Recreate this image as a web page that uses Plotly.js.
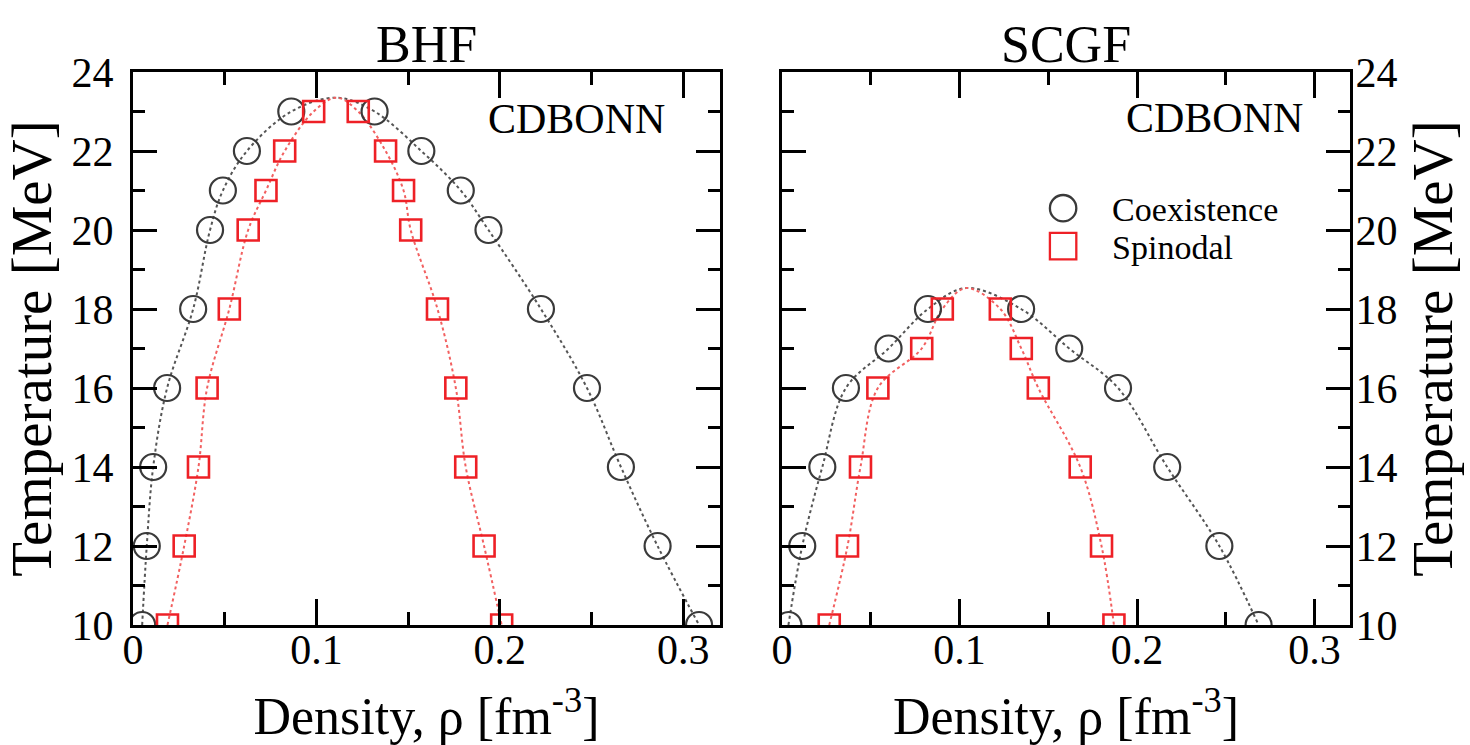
<!DOCTYPE html>
<html>
<head>
<meta charset="utf-8">
<script src="https://cdn.plot.ly/plotly-3.0.1.min.js"></script>
<style>html,body{margin:0;padding:0;background:#fff;}#chart{width:1470px;height:745px;}</style>
</head>
<body>
<div id="chart"></div>
<script>
// ---- Data ----
var temperatures = [10, 12, 14, 16, 18, 20, 21, 22, 23];
// BHF
var bhfCoexLow  = [0.005, 0.0075, 0.011, 0.0186, 0.0328, 0.042, 0.049, 0.0621, 0.0863];
var bhfCoexHigh = [0.3086, 0.286, 0.266, 0.2475, 0.2224, 0.1938, 0.1787, 0.1572, 0.1317];
var bhfSpinLow  = [0.0188, 0.0279, 0.0357, 0.0404, 0.0525, 0.0628, 0.0725, 0.0827, 0.0985];
var bhfSpinHigh = [0.201, 0.1914, 0.1814, 0.176, 0.166, 0.1514, 0.1475, 0.1377, 0.1228];
var bhfCritical = {rho: 0.111, T: 23.35};
// SCGF
var scgfTemperatures = [10, 12, 14, 16, 17, 18];
var scgfCoexLow  = [0.0036, 0.0114, 0.0227, 0.036, 0.060, 0.0822];
var scgfCoexHigh = [0.2685, 0.2464, 0.217, 0.1893, 0.1618, 0.1347];
var scgfSpinLow  = [0.0266, 0.0369, 0.0442, 0.054, 0.0787, 0.0903];
var scgfSpinHigh = [0.187, 0.18, 0.168, 0.1444, 0.1348, 0.123];
var scgfCritical = {rho: 0.1037, T: 18.53};

var xTickVals = [0, 0.1, 0.2, 0.3];
var xTickText = ['0', '0.1', '0.2', '0.3'];
var yTickVals = [10, 12, 14, 16, 18, 20, 22, 24];

// ---- helpers ----
function branchX(low, high, crit) {
  return low.concat([crit.rho]).concat(high.slice().reverse());
}
function branchY(temps, crit) {
  return temps.concat([crit.T]).concat(temps.slice().reverse());
}
function pointsX(low, high) { return low.concat(high); }
function pointsY(temps) { return temps.concat(temps); }

var serif = 'Liberation Serif, Times New Roman, serif';
var coexColor = '#3a3a3a';
var spinColor = '#ee2026';

function lineTrace(x, y, color, xa, ya) {
  return {x: x, y: y, xaxis: xa, yaxis: ya, mode: 'lines', showlegend: false, hoverinfo: 'skip',
    line: {color: color, width: 2, dash: 'dot', shape: 'spline', smoothing: 1}};
}
function markTrace(x, y, name, sym, size, color, lw, xa, ya, legend, legendId) {
  return {x: x, y: y, xaxis: xa, yaxis: ya, mode: 'markers', name: name, showlegend: legend,
    legend: legendId || 'legend',
    marker: {symbol: sym, size: size, color: color, line: {color: color, width: lw}}};
}

var traces = [
  lineTrace(branchX(bhfCoexLow, bhfCoexHigh, bhfCritical), branchY(temperatures, bhfCritical), '#555555', 'x', 'y'),
  lineTrace(branchX(bhfSpinLow, bhfSpinHigh, bhfCritical), branchY(temperatures, bhfCritical), '#f26060', 'x', 'y'),
  lineTrace(branchX(scgfCoexLow, scgfCoexHigh, scgfCritical), branchY(scgfTemperatures, scgfCritical), '#555555', 'x2', 'y2'),
  lineTrace(branchX(scgfSpinLow, scgfSpinHigh, scgfCritical), branchY(scgfTemperatures, scgfCritical), '#f26060', 'x2', 'y2'),
  markTrace(pointsX(bhfCoexLow, bhfCoexHigh), pointsY(temperatures), 'Coexistence', 'circle-open', 26, coexColor, 2.2, 'x', 'y', false),
  markTrace(pointsX(bhfSpinLow, bhfSpinHigh), pointsY(temperatures), 'Spinodal', 'square-open', 21, spinColor, 2.6, 'x', 'y', false),
  markTrace(pointsX(scgfCoexLow, scgfCoexHigh), pointsY(scgfTemperatures), 'Coexistence', 'circle-open', 26, coexColor, 2.2, 'x2', 'y2', true, 'legend'),
  markTrace(pointsX(scgfSpinLow, scgfSpinHigh), pointsY(scgfTemperatures), 'Spinodal', 'square-open', 21, spinColor, 2.6, 'x2', 'y2', true, 'legend2')
];

function xAxis(domain, anchor) {
  return {domain: domain, anchor: anchor, range: [0, 0.32], showgrid: false, zeroline: false,
    showline: true, linewidth: 3, linecolor: '#000', mirror: 'allticks',
    ticks: 'inside', ticklen: 26, tickwidth: 3, tickcolor: '#000',
    tickvals: xTickVals, ticktext: xTickText, ticklabelstandoff: -14,
    minor: {dtick: 0.05, tick0: 0, ticks: 'inside', ticklen: 13, tickwidth: 3, tickcolor: '#000', showgrid: false},
    tickfont: {family: serif, size: 42, color: '#000'},
    title: {text: 'Density, ρ [fm<sup>-3</sup>]', font: {family: serif, size: 52, color: '#000'}, standoff: 29}};
}
function yAxis(anchor, side, standoff, titleStandoff) {
  return {domain: [0, 1], anchor: anchor, side: side, range: [10, 24], showgrid: false, zeroline: false,
    showline: true, linewidth: 3, linecolor: '#000', mirror: 'allticks',
    ticks: 'inside', ticklen: 24, tickwidth: 3, tickcolor: '#000',
    tickvals: yTickVals, ticklabelstandoff: standoff,
    minor: {dtick: 1, tick0: 10, ticks: 'inside', ticklen: 12, tickwidth: 3, tickcolor: '#000', showgrid: false},
    tickfont: {family: serif, size: 42, color: '#000'},
    title: {text: 'Temperature [MeV]', font: {family: serif, size: 57, color: '#000'}, standoff: titleStandoff}};
}

var legendFont = {family: serif, size: 34, color: '#000'};
var layout = {
  width: 1470, height: 745,
  margin: {l: 133, r: 120, t: 72, b: 120},
  paper_bgcolor: '#fff', plot_bgcolor: '#fff',
  showlegend: true,
  xaxis: xAxis([0, 0.4823], 'y'),
  yaxis: yAxis('x', 'left', 8, 8),
  xaxis2: xAxis([0.5333, 1], 'y2'),
  yaxis2: yAxis('x2', 'right', -6, 16),
  legend: {x: 0.724, xanchor: 'left', y: 0.8054, yanchor: 'top', bgcolor: 'rgba(0,0,0,0)',
    itemwidth: 88, font: legendFont},
  legend2: {x: 0.724, xanchor: 'left', y: 0.7368, yanchor: 'top', bgcolor: 'rgba(0,0,0,0)',
    itemwidth: 88, font: legendFont},
  annotations: [
    {text: 'BHF', xref: 'x domain', yref: 'paper', x: 0.5, y: 1, xanchor: 'center', yanchor: 'bottom', yshift: -3, showarrow: false,
     font: {family: serif, size: 52, color: '#000'}},
    {text: 'SCGF', xref: 'x2 domain', yref: 'paper', x: 0.5, y: 1, xanchor: 'center', yanchor: 'bottom', yshift: -3, showarrow: false,
     font: {family: serif, size: 52, color: '#000'}},
    {text: 'CDBONN', xref: 'x domain', yref: 'y domain', x: 0.755, y: 0.915, xanchor: 'center', yanchor: 'middle', showarrow: false,
     font: {family: serif, size: 42, color: '#000'}},
    {text: 'CDBONN', xref: 'x2 domain', yref: 'y2 domain', x: 0.762, y: 0.917, xanchor: 'center', yanchor: 'middle', showarrow: false,
     font: {family: serif, size: 42, color: '#000'}}
  ]
};

Plotly.newPlot('chart', traces, layout, {displayModeBar: false, staticPlot: true}).then(function (gd) {
  // enlarge the legend symbols to the size used in the figure (plotly caps them at 16px)
  gd.querySelectorAll('.legendpoints path').forEach(function (p) {
    var t = p.getAttribute('transform') || '';
    p.setAttribute('transform', t + ' scale(1.65)');
    p.style.strokeWidth = '1.4px';
  });
});
</script>
</body>
</html>
